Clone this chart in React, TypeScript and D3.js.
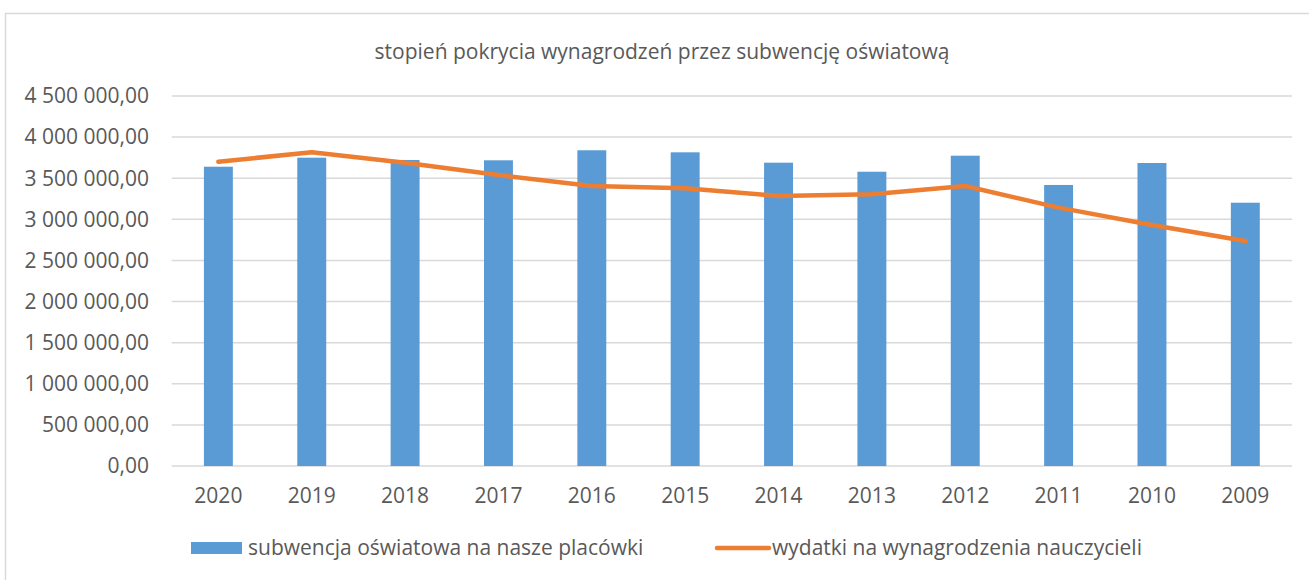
import React, { useEffect, useRef } from 'react';
import * as d3 from 'd3';

const years = ['2020', '2019', '2018', '2017', '2016', '2015', '2014', '2013', '2012', '2011', '2010', '2009'];
const subwencja = [3640000, 3750000, 3722000, 3718000, 3840000, 3815000, 3689000, 3579000, 3774000, 3418000, 3685000, 3202000];
const wydatki = [3701000, 3815000, 3689000, 3539000, 3405000, 3377000, 3284000, 3304000, 3405000, 3142000, 2931000, 2736000];
const yTicks = [0, 500000, 1000000, 1500000, 2000000, 2500000, 3000000, 3500000, 4000000, 4500000];

const title = 'stopień pokrycia wynagrodzeń przez subwencję oświatową';
const seriesNames = ['subwencja oświatowa na nasze placówki', 'wydatki na wynagrodzenia nauczycieli'];

const W = 1309;
const H = 580;
const FONT = '"Open Sans", "Liberation Sans", Arial, sans-serif';
const TEXT = '#595959';

const fmt = (v: number) => {
  const [i, d] = v.toFixed(2).split('.');
  return i.replace(/\B(?=(\d{3})+(?!\d))/g, '\u00a0') + ',' + d;
};

export default function App() {
  const svgRef = useRef<SVGSVGElement | null>(null);

  useEffect(() => {
    if (!svgRef.current) return;
    const svg = d3.select(svgRef.current);
    svg.selectAll('*').remove();

    const plot = { left: 171.7, right: 1292, top: 96, bottom: 466 };

    const x = d3.scaleBand<string>().domain(years).range([plot.left, plot.right]).padding(0);
    const y = d3.scaleLinear().domain([0, 4500000]).range([plot.bottom, plot.top]);
    const barW = x.bandwidth() * 0.31;

    // chart frame
    svg.append('rect')
      .attr('x', 5.5).attr('y', 13.5)
      .attr('width', W + 10).attr('height', H + 10)
      .attr('fill', '#fff')
      .attr('stroke', '#d9d9d9')
      .attr('stroke-width', 1.5);

    svg.append('text')
      .attr('x', 662).attr('y', 52)
      .attr('dy', '0.35em')
      .attr('text-anchor', 'middle')
      .attr('fill', TEXT)
      .style('font-family', FONT)
      .style('font-size', '21px')
      .text(title);

    // gridlines
    svg.append('g')
      .selectAll('line')
      .data(yTicks)
      .enter()
      .append('line')
      .attr('x1', plot.left).attr('x2', plot.right)
      .attr('y1', (d) => y(d)).attr('y2', (d) => y(d))
      .attr('stroke', '#d9d9d9')
      .attr('stroke-width', 1.5);

    // y labels
    svg.append('g')
      .selectAll('text')
      .data(yTicks)
      .enter()
      .append('text')
      .attr('x', 149)
      .attr('y', (d) => y(d))
      .attr('dy', '0.35em')
      .attr('text-anchor', 'end')
      .attr('fill', TEXT)
      .style('font-family', FONT)
      .style('font-size', '21px')
      .text((d) => fmt(d));

    // x labels
    svg.append('g')
      .selectAll('text')
      .data(years)
      .enter()
      .append('text')
      .attr('x', (d) => (x(d) as number) + x.bandwidth() / 2)
      .attr('y', 496)
      .attr('dy', '0.35em')
      .attr('text-anchor', 'middle')
      .attr('fill', TEXT)
      .style('font-family', FONT)
      .style('font-size', '21px')
      .text((d) => d);

    // bars
    svg.append('g')
      .selectAll('rect')
      .data(subwencja)
      .enter()
      .append('rect')
      .attr('x', (d, i) => (x(years[i]) as number) + x.bandwidth() / 2 - barW / 2)
      .attr('y', (d) => y(d))
      .attr('width', barW)
      .attr('height', (d) => y(0) - y(d))
      .attr('fill', '#5b9bd5');

    // line
    const line = d3
      .line<number>()
      .x((d, i) => (x(years[i]) as number) + x.bandwidth() / 2)
      .y((d) => y(d));

    svg.append('path')
      .datum(wydatki)
      .attr('fill', 'none')
      .attr('stroke', '#ed7d31')
      .attr('stroke-width', 4.5)
      .attr('stroke-linejoin', 'round')
      .attr('stroke-linecap', 'round')
      .attr('d', line);

    // legend
    const ly = 548;
    svg.append('rect')
      .attr('x', 191).attr('y', ly - 6)
      .attr('width', 51).attr('height', 12)
      .attr('fill', '#5b9bd5');
    svg.append('text')
      .attr('x', 248).attr('y', ly).attr('dy', '0.35em')
      .attr('fill', TEXT)
      .style('font-family', FONT)
      .style('font-size', '21px')
      .text(seriesNames[0]);

    svg.append('line')
      .attr('x1', 717).attr('x2', 769)
      .attr('y1', ly).attr('y2', ly)
      .attr('stroke', '#ed7d31')
      .attr('stroke-width', 4.5)
      .attr('stroke-linecap', 'round');
    svg.append('text')
      .attr('x', 772).attr('y', ly).attr('dy', '0.35em')
      .attr('fill', TEXT)
      .style('font-family', FONT)
      .style('font-size', '21px')
      .text(seriesNames[1]);
  }, []);

  return (
    <div style={{ position: 'absolute', left: 0, top: 0, width: W, height: H, background: '#fff' }}>
      <svg ref={svgRef} width={W} height={H} style={{ display: 'block' }} />
    </div>
  );
}
